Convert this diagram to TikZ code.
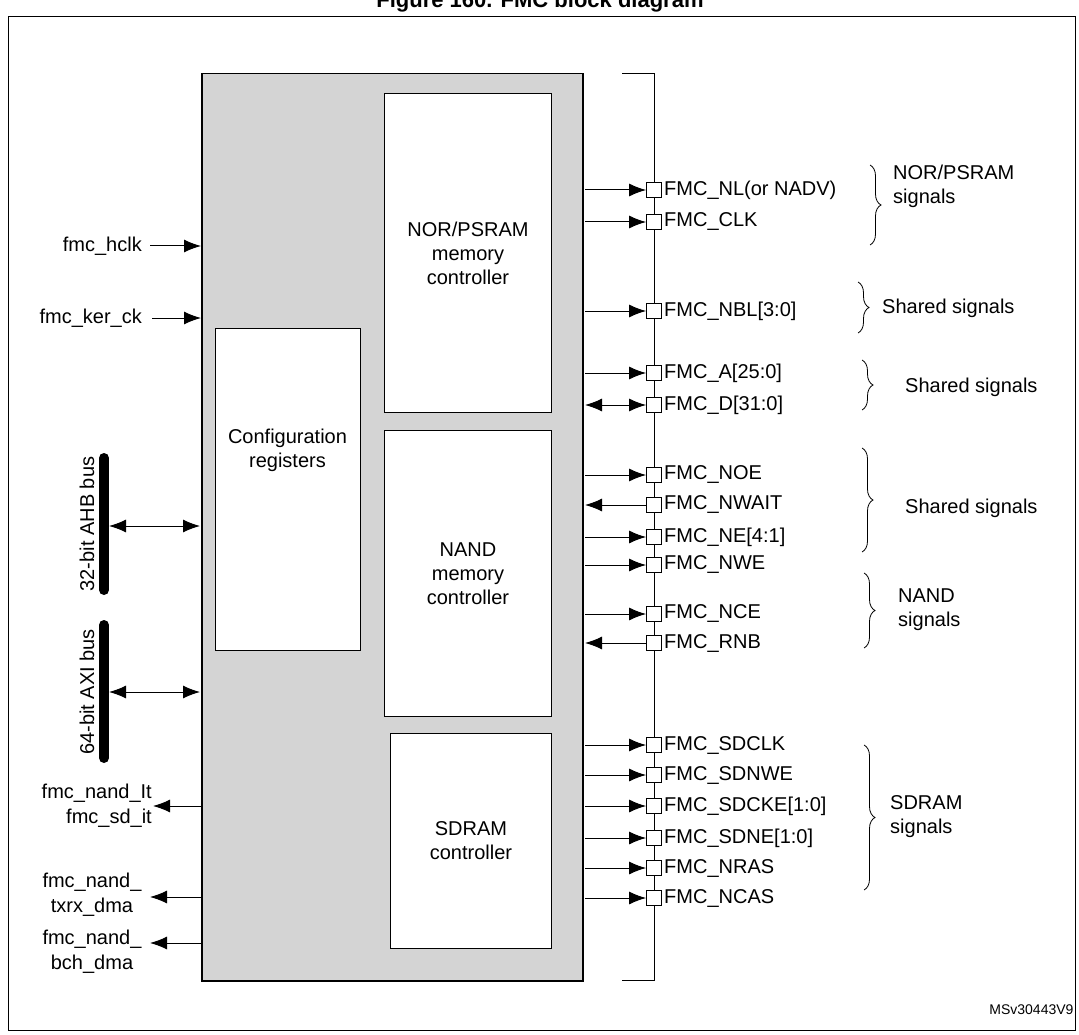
\documentclass[tikz,border=0pt]{standalone}
\usepackage{fontspec}
\setmainfont{Liberation Sans}
\usetikzlibrary{arrows.meta,decorations.pathreplacing}
\begin{document}
\begin{tikzpicture}[x=1pt,y=-1pt,
  txt/.style={font=\fontsize{20}{24}\selectfont,inner sep=0pt},
  box/.style={draw,line width=1pt,fill=white},
  arr/.style={line width=1pt,-{Latex[length=17pt,width=13pt]}},
  barr/.style={line width=1pt,{Latex[length=17pt,width=13pt]}-{Latex[length=17pt,width=13pt]}},
  pin/.style={draw,fill=white,minimum size=15pt,inner sep=0pt,line width=0.8pt},
  brc/.style={decorate,decoration={brace,amplitude=11pt},line width=0.8pt}]
\useasboundingbox (0,0) rectangle (1079,1035);
\node[font=\bfseries\fontsize{22}{26}\selectfont,anchor=base] (title) at (540,8) {Figure 160. FMC block diagram};
\draw[line width=1pt] (8,17) rectangle (1075,1030);
% main block
\node[draw,line width=1.5pt,fill=black!17,minimum width=381pt,minimum height=907pt,inner sep=0pt,anchor=north west] (fmc) at (201,73) {};
\node[box,minimum width=167pt,minimum height=319pt,anchor=north west,align=center,txt] (nor) at (384,93) {NOR/PSRAM\\memory\\controller};
\node[box,minimum width=167pt,minimum height=286pt,anchor=north west,align=center,txt] (nand) at (384,430) {NAND\\memory\\controller};
\node[box,minimum width=161pt,minimum height=215pt,anchor=north west,align=center,txt] (sdram) at (390,733) {SDRAM\\controller};
\node[box,minimum width=145pt,minimum height=322pt,anchor=north west,txt] (cfg) at (215,328) {};
\node[txt,align=center] (cfgl) at (287.5,450) {Configuration\\registers};
% bus line
\coordinate (bt) at (654,73); \coordinate (bb) at (654,980);
\coordinate (btl) at (622,73); \coordinate (bbl) at (622,980);
\draw[line width=0.8pt] (btl) -- (bt) -- (bb) -- (bbl);
% pins
\foreach \n/\y/\t/\d in {nl/190/FMC\_NL(or NADV)/o, clk/222/FMC\_CLK/o, nbl/311/FMC\_NBL[3:0]/o,
  a/373/FMC\_A[25:0]/o, d/405/FMC\_D[31:0]/b, noe/475/FMC\_NOE/o, nwait/505/FMC\_NWAIT/i,
  ne/537/FMC\_NE[4:1]/o, nwe/565/FMC\_NWE/o, nce/614/FMC\_NCE/o, rnb/643/FMC\_RNB/i,
  sdclk/745/FMC\_SDCLK/o, sdnwe/775/FMC\_SDNWE/o, sdcke/806/FMC\_SDCKE[1:0]/o,
  sdne/838/FMC\_SDNE[1:0]/o, nras/868/FMC\_NRAS/o, ncas/898/FMC\_NCAS/o}{
  \node[pin] (p\n) at (654,\y) {};
  \node[txt,anchor=west] (l\n) at (664,\y) {\t};
  \coordinate (s\n) at (585,\y);
  \if\d o\draw[arr] (s\n) -- (p\n.west);\fi
  \if\d i\draw[arr] (p\n.west) -- (s\n);\fi
  \if\d b\draw[barr] (s\n) -- (p\n.west);\fi
}
% braces
\draw[brc] (870,165) -- (870,245);
\node[txt,anchor=west,align=left] (g1) at (893,186) {NOR/PSRAM\\signals};
\draw[brc] (858,282) -- (858,333);
\node[txt,anchor=west] (g2) at (882,308) {Shared signals};
\draw[brc] (862,360) -- (862,410);
\node[txt,anchor=west] (g3) at (905,387) {Shared signals};
\draw[brc] (862,448) -- (862,552);
\node[txt,anchor=west] (g4) at (905,508) {Shared signals};
\draw[brc] (864,573) -- (864,648);
\node[txt,anchor=west,align=left] (g5) at (898,610) {NAND\\signals};
\draw[brc] (864,745) -- (864,890);
\node[txt,anchor=west,align=left] (g6) at (890,817) {SDRAM\\signals};
% left signals
\node[txt,anchor=east] (hclk) at (142,246) {fmc\_hclk};
\coordinate (hs) at (150,246);
\draw[arr] (hs) -- (201,246);
\node[txt,anchor=east] (ker) at (142,318) {fmc\_ker\_ck};
\coordinate (ks) at (152,318);
\draw[arr] (ks) -- (201,318);
% buses
\draw[line width=10pt,line cap=round] (104,458) coordinate (ahbt) -- (104,590) coordinate (ahbb);
\node[txt,rotate=90] (ahbl) at (87,524) {32-bit AHB bus};
\coordinate (ahb) at (109,526);
\draw[barr] (ahb) -- (200,526);
\draw[line width=10pt,line cap=round] (104,625) coordinate (axit) -- (104,758) coordinate (axib);
\node[txt,rotate=90] (axil) at (87,692) {64-bit AXI bus};
\coordinate (axi) at (109,692);
\draw[barr] (axi) -- (200,692);
% outputs
\node[txt,anchor=east,align=right,font=\fontsize{20}{25}\selectfont] (it) at (152,806) {fmc\_nand\_It\\fmc\_sd\_it};
\coordinate (its) at (153,806);
\draw[arr] (201,806) -- (its);
\node[txt,align=center,font=\fontsize{20}{25}\selectfont] (tx) at (92,895) {fmc\_nand\_\\txrx\_dma};
\coordinate (txs) at (150,897);
\draw[arr] (201,897) -- (txs);
\node[txt,align=center,font=\fontsize{20}{25}\selectfont] (bch) at (92,952) {fmc\_nand\_\\bch\_dma};
\coordinate (bchs) at (150,943);
\draw[arr] (201,943) -- (bchs);
\node[font=\fontsize{14}{16}\selectfont,anchor=east] (ref) at (1077,1010) {MSv30443V9};
\end{tikzpicture}
\end{document}
